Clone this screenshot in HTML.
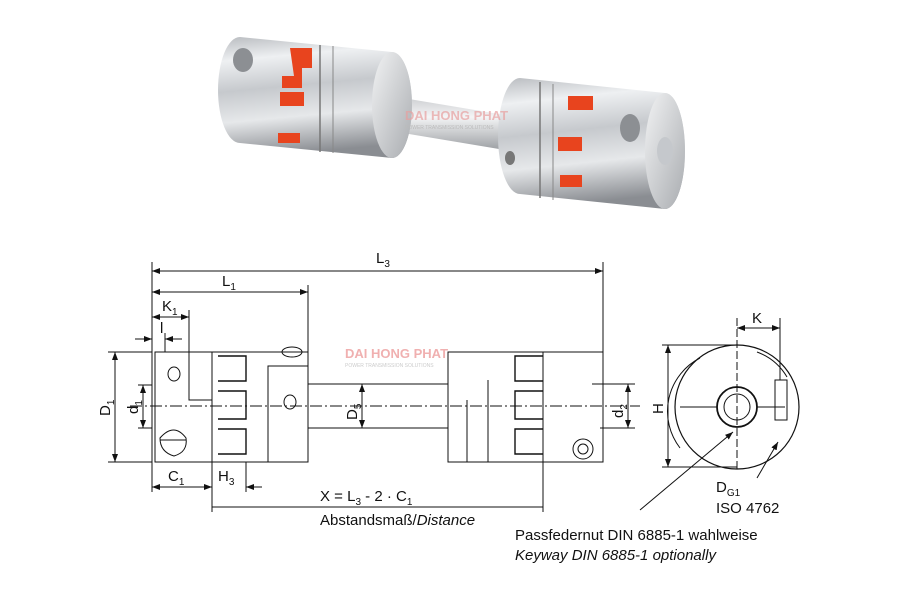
<!DOCTYPE html>
<html><head><meta charset="utf-8"><style>
html,body{margin:0;padding:0;background:#fff}
svg{display:block}
text{font-family:"Liberation Sans",sans-serif;fill:#111}
</style></head><body>
<svg width="900" height="600" viewBox="0 0 900 600" xmlns="http://www.w3.org/2000/svg">
<defs>
<linearGradient id="met" x1="0" y1="0" x2="0.15" y2="1">
<stop offset="0" stop-color="#b9bcc0"/><stop offset="0.2" stop-color="#eef0f2"/><stop offset="0.45" stop-color="#c6c9cd"/><stop offset="0.7" stop-color="#e6e8ea"/><stop offset="1" stop-color="#8a8d92"/>
</linearGradient>
<linearGradient id="face" x1="0" y1="0" x2="1" y2="1">
<stop offset="0" stop-color="#f2f3f4"/><stop offset="1" stop-color="#a9acb0"/>
</linearGradient>
<linearGradient id="shaft" x1="0" y1="0" x2="0" y2="1">
<stop offset="0" stop-color="#c8cacd"/><stop offset="0.4" stop-color="#f4f5f6"/><stop offset="1" stop-color="#9c9fa3"/>
</linearGradient>
<marker id="a" markerWidth="8" markerHeight="6" refX="8" refY="3" orient="auto-start-reverse" markerUnits="userSpaceOnUse"><path d="M0,0 L8,3 L0,6 z" fill="#111"/></marker>
</defs>

<!-- photo -->
<polygon points="385,95 505,115 505,150 385,130" fill="url(#shaft)"/>
<path d="M240,37 L392,52 A20,53 0 0 1 392,158 L240,143 A22,53 0 0 1 240,37 Z" fill="url(#met)"/>
<ellipse cx="392" cy="105" rx="20" ry="53" fill="url(#face)"/>
<line x1="320" y1="45" x2="320" y2="152" stroke="#777" stroke-width="1.5"/>
<line x1="333" y1="46" x2="333" y2="153" stroke="#888" stroke-width="1"/>
<path d="M290,48 h22 v20 h-10 v20 h-20 v-12 h12 z" fill="#e8441e"/>
<path d="M280,92 h24 v14 h-24 z" fill="#e8441e"/>
<path d="M278,133 h22 v10 h-22 z" fill="#e8441e"/>
<ellipse cx="243" cy="60" rx="10" ry="12" fill="#8c8f93"/>
<path d="M520,78 L665,93 A20,58 0 0 1 665,209 L520,194 A22,58 0 0 1 520,78 Z" fill="url(#met)"/>
<ellipse cx="665" cy="151" rx="20" ry="58" fill="url(#face)"/>
<ellipse cx="665" cy="151" rx="8" ry="14" fill="#c5c8cc"/>
<line x1="540" y1="82" x2="540" y2="198" stroke="#777" stroke-width="1.5"/>
<line x1="553" y1="84" x2="553" y2="200" stroke="#888" stroke-width="1"/>
<path d="M568,96 h25 v14 h-25 z" fill="#e8441e"/>
<path d="M558,137 h24 v14 h-24 z" fill="#e8441e"/>
<path d="M560,175 h22 v12 h-22 z" fill="#e8441e"/>
<ellipse cx="630" cy="128" rx="10" ry="14" fill="#8c8f93"/>
<ellipse cx="510" cy="158" rx="5" ry="7" fill="#777"/>
<text x="405" y="120" font-size="13" font-weight="bold" style="fill:#e8a0a0" opacity="0.7">DAI HONG PHAT</text>
<text x="405" y="129" font-size="5" style="fill:#bbb">POWER TRANSMISSION SOLUTIONS</text>

<g stroke="#111" fill="none" stroke-width="1">
<line x1="152" y1="271" x2="603" y2="271" marker-start="url(#a)" marker-end="url(#a)"/>
<line x1="152" y1="262" x2="152" y2="492"/>
<line x1="603" y1="262" x2="603" y2="352"/>
<line x1="152" y1="292" x2="308" y2="292" marker-start="url(#a)" marker-end="url(#a)"/>
<line x1="308" y1="285" x2="308" y2="352"/>
<line x1="152" y1="317" x2="189" y2="317" marker-start="url(#a)" marker-end="url(#a)"/>
<line x1="189" y1="310" x2="189" y2="400"/>
<line x1="135" y1="339" x2="152" y2="339" marker-end="url(#a)"/>
<line x1="182" y1="339" x2="165" y2="339" marker-end="url(#a)"/>
<line x1="165" y1="333" x2="165" y2="352"/>
<line x1="115" y1="352" x2="115" y2="462" marker-start="url(#a)" marker-end="url(#a)"/>
<line x1="108" y1="352" x2="152" y2="352"/><line x1="108" y1="462" x2="152" y2="462"/>
<line x1="143" y1="385" x2="143" y2="428" marker-start="url(#a)" marker-end="url(#a)"/>
<line x1="138" y1="385" x2="152" y2="385"/><line x1="138" y1="428" x2="152" y2="428"/>
<line x1="362" y1="384" x2="362" y2="428" marker-start="url(#a)" marker-end="url(#a)"/>
<line x1="628" y1="384" x2="628" y2="428" marker-start="url(#a)" marker-end="url(#a)"/>
<line x1="592" y1="384" x2="635" y2="384"/><line x1="600" y1="428" x2="635" y2="428"/>
<line x1="152" y1="487" x2="212" y2="487" marker-start="url(#a)" marker-end="url(#a)"/>
<line x1="262" y1="487" x2="246" y2="487" marker-end="url(#a)"/>
<line x1="212" y1="462" x2="212" y2="512"/><line x1="246" y1="462" x2="246" y2="492"/>
<line x1="212" y1="507" x2="543" y2="507"/>
<line x1="543" y1="462" x2="543" y2="512"/>
<line x1="130" y1="406" x2="640" y2="406" stroke-dasharray="12,3,2,3"/>
<path d="M155,352 H212 V462 H155 Z"/>
<line x1="152" y1="352" x2="152" y2="462"/>
<path d="M189,352 V400 H212"/>
<path d="M212,352 H308 V462 H212"/>
<path d="M268,462 V366 H308"/>
<path d="M218,356 h28 v25 h-28 m0,10 h28 v28 h-28 m0,10 h28 v25 h-28" stroke-width="1.4"/>
<path d="M212,365 v30 M212,420 v30" />
<ellipse cx="292" cy="352" rx="10" ry="5"/>
<ellipse cx="174" cy="374" rx="6" ry="7"/>
<path d="M160,438 q14,-16 26,0 q2,14 -12,18 q-14,-4 -14,-18z"/>
<line x1="160" y1="440" x2="186" y2="440"/>
<ellipse cx="290" cy="402" rx="6" ry="7"/>
<line x1="308" y1="384" x2="448" y2="384"/><line x1="308" y1="428" x2="448" y2="428"/>
<path d="M448,352 H603 V462 H448 Z"/>
<line x1="488" y1="380" x2="488" y2="462"/>
<line x1="467" y1="400" x2="467" y2="462"/>
<path d="M543,356 h-28 v25 h28 m0,10 h-28 v28 h28 m0,10 h-28 v25 h28" stroke-width="1.4"/>
<line x1="543" y1="352" x2="543" y2="462"/>
<circle cx="583" cy="449" r="10"/><circle cx="583" cy="449" r="5"/>
<circle cx="737" cy="407" r="62" stroke-width="1.2"/>
<path d="M700,358 a60,60 0 0 0 -20,90" />
<path d="M757,352 a58,58 0 0 1 30,25" />
<circle cx="737" cy="407" r="20" stroke-width="1.8"/>
<circle cx="737" cy="407" r="13"/>
<line x1="680" y1="407" x2="717" y2="407"/><line x1="757" y1="407" x2="785" y2="407"/>
<line x1="737" y1="318" x2="737" y2="470" stroke-dasharray="8,3"/>
<rect x="775" y="380" width="12" height="40"/>
<line x1="780" y1="318" x2="780" y2="380"/>
<line x1="737" y1="328" x2="780" y2="328" marker-start="url(#a)" marker-end="url(#a)"/>
<line x1="668" y1="345" x2="668" y2="467" marker-start="url(#a)" marker-end="url(#a)"/>
<line x1="662" y1="345" x2="737" y2="345"/><line x1="662" y1="467" x2="737" y2="467"/>
<line x1="640" y1="510" x2="733" y2="432" marker-end="url(#a)"/>
<line x1="757" y1="478" x2="778" y2="442" marker-end="url(#a)"/>
</g>
<text x="376" y="263" font-size="15">L<tspan font-size="10" dy="4">3</tspan></text>
<text x="222" y="286" font-size="15">L<tspan font-size="10" dy="4">1</tspan></text>
<text x="162" y="311" font-size="15">K<tspan font-size="10" dy="4">1</tspan></text>
<text x="160" y="333" font-size="15">l</text>
<text x="168" y="481" font-size="15">C<tspan font-size="10" dy="4">1</tspan></text>
<text x="218" y="481" font-size="15">H<tspan font-size="10" dy="4">3</tspan></text>
<text x="320" y="501" font-size="15">X = L<tspan font-size="10" dy="4">3</tspan><tspan dy="-4"> - 2 · C</tspan><tspan font-size="10" dy="4">1</tspan></text>
<text x="320" y="525" font-size="15">Abstandsmaß/<tspan font-style="italic">Distance</tspan></text>
<text transform="translate(110,416) rotate(-90)" font-size="15">D<tspan font-size="10" dy="4">1</tspan></text>
<text transform="translate(138,414) rotate(-90)" font-size="15">d<tspan font-size="10" dy="4">1</tspan></text>
<text transform="translate(357,420) rotate(-90)" font-size="15">D<tspan font-size="10" dy="4">5</tspan></text>
<text transform="translate(623,418) rotate(-90)" font-size="15">d<tspan font-size="10" dy="4">2</tspan></text>
<text transform="translate(663,414) rotate(-90)" font-size="15">H</text>
<text x="752" y="323" font-size="15">K</text>
<text x="716" y="492" font-size="15">D<tspan font-size="10" dy="4">G1</tspan></text>
<text x="716" y="513" font-size="15">ISO 4762</text>
<text x="515" y="540" font-size="15">Passfedernut DIN 6885-1 wahlweise</text>
<text x="515" y="560" font-size="15" font-style="italic">Keyway DIN 6885-1 optionally</text>
<text x="345" y="358" font-size="13" font-weight="bold" style="fill:#f0b0b0">DAI HONG PHAT</text>
<text x="345" y="367" font-size="5" style="fill:#ccc">POWER TRANSMISSION SOLUTIONS</text>
</svg>
</body></html>
